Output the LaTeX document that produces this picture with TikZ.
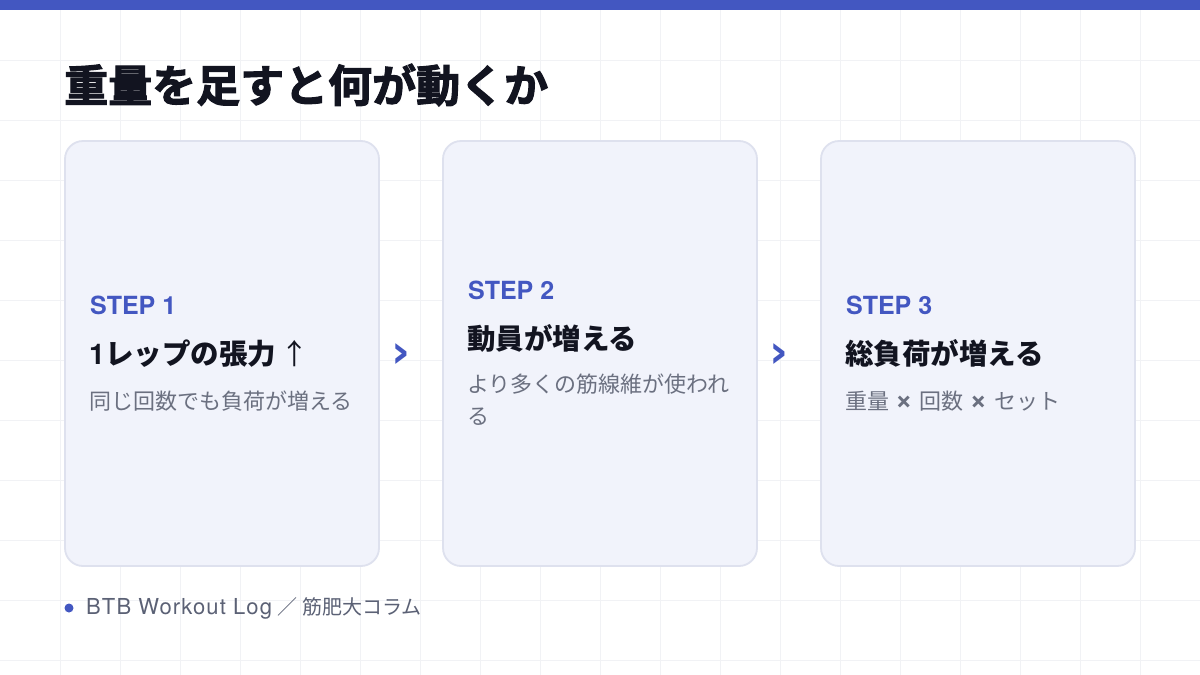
\documentclass[tikz,border=0pt]{standalone}
\usepackage{fontspec}
\setmainfont{Noto Sans CJK JP}
\newfontfamily\latinf{TeX Gyre Heros}
\newfontfamily\footlatin{TeX Gyre Heros}[LetterSpace=5]
\newfontfamily\chevf{DejaVu Sans}
\newfontfamily\titlef{Noto Sans CJK JP Bold}[AutoFakeBold=2.5]
\definecolor{brand}{HTML}{4357C1}
\definecolor{gridc}{HTML}{F1F2F5}
\definecolor{cardfill}{HTML}{F1F3FB}
\definecolor{cardline}{HTML}{DEE1EE}
\definecolor{titlec}{HTML}{121420}
\definecolor{subc}{HTML}{6B7080}
\definecolor{footc}{HTML}{5B6175}
\tikzset{
  card/.style={draw=cardline, line width=1.8pt, fill=cardfill, rounded corners=18pt,
    minimum width=314pt, minimum height=425pt, inner sep=0pt},
  steplabel/.style={anchor=west, inner sep=0pt, text=brand, font=\latinf\fontsize{25}{28}\selectfont\bfseries},
  headtxt/.style={anchor=west, inner sep=0pt, text=titlec, font=\fontsize{28.5}{34}\selectfont\bfseries},
  subtxt/.style={anchor=west, inner sep=0pt, text=subc, font=\fontsize{22}{33}\selectfont},
  chev/.style={inner sep=0pt, text=brand, font=\chevf\fontsize{46}{46}\selectfont\bfseries},
}
\newcommand{\timesmark}{{\latinf\bfseries\fontsize{30}{30}\selectfont ×}}
\begin{document}
\begin{tikzpicture}[x=1pt,y=-1pt]
\useasboundingbox (0,0) rectangle (1200,675);
\fill[white] (0,0) rectangle (1200,675);
\foreach \gx in {60,120,...,1140} \draw[gridc, line width=1pt] (\gx,0) -- (\gx,675);
\foreach \gy in {60,120,...,660} \draw[gridc, line width=1pt] (0,\gy) -- (1200,\gy);
\fill[brand] (0,0) rectangle (1200,10);
\node[anchor=west, inner sep=0pt, text=titlec, font=\titlef\fontsize{44}{50}\selectfont\bfseries] (title) at (64,85) {重量を足すと何が動くか};

\node[card] (c1) at (222,353.5) {};
\node[card] (c2) at (600,353.5) {};
\node[card] (c3) at (978,353.5) {};

\node[steplabel] (s1) at (90,305) {STEP 1};
\node[headtxt] (h1) at (89,354) {{\latinf\bfseries 1}レップの張力\,{\mdseries ↑}};
\node[subtxt] (b1) at (89,401) {同じ回数でも負荷が増える};

\node[steplabel] (s2) at (468,290) {STEP 2};
\node[headtxt] (h2) at (467,338) {動員が増える};
\node[subtxt] (b2) at (467,384) {より多くの筋線維が使われ};
\node[subtxt] (b2b) at (467,417) {る};

\node[steplabel] (s3) at (846,305) {STEP 3};
\node[headtxt] (h3) at (845,353) {総負荷が増える};
\node[subtxt] (b3) at (845,401) {重量\hspace{6pt}\timesmark\hspace{7pt}回数\hspace{6pt}\timesmark\hspace{7pt}セット};

\node[chev] (a1) at (401,356) {›};
\node[chev] (a2) at (779,356) {›};

\fill[brand] (69,608) circle (4.5);
\node[anchor=west, inner sep=0pt, text=footc, font=\fontsize{20}{24}\selectfont] (foot) at (86,608) {{\footlatin\fontsize{22}{24}\selectfont BTB Workout Log}\hspace{5pt}／\hspace{5pt}筋肥大コラム};
\end{tikzpicture}
\end{document}
